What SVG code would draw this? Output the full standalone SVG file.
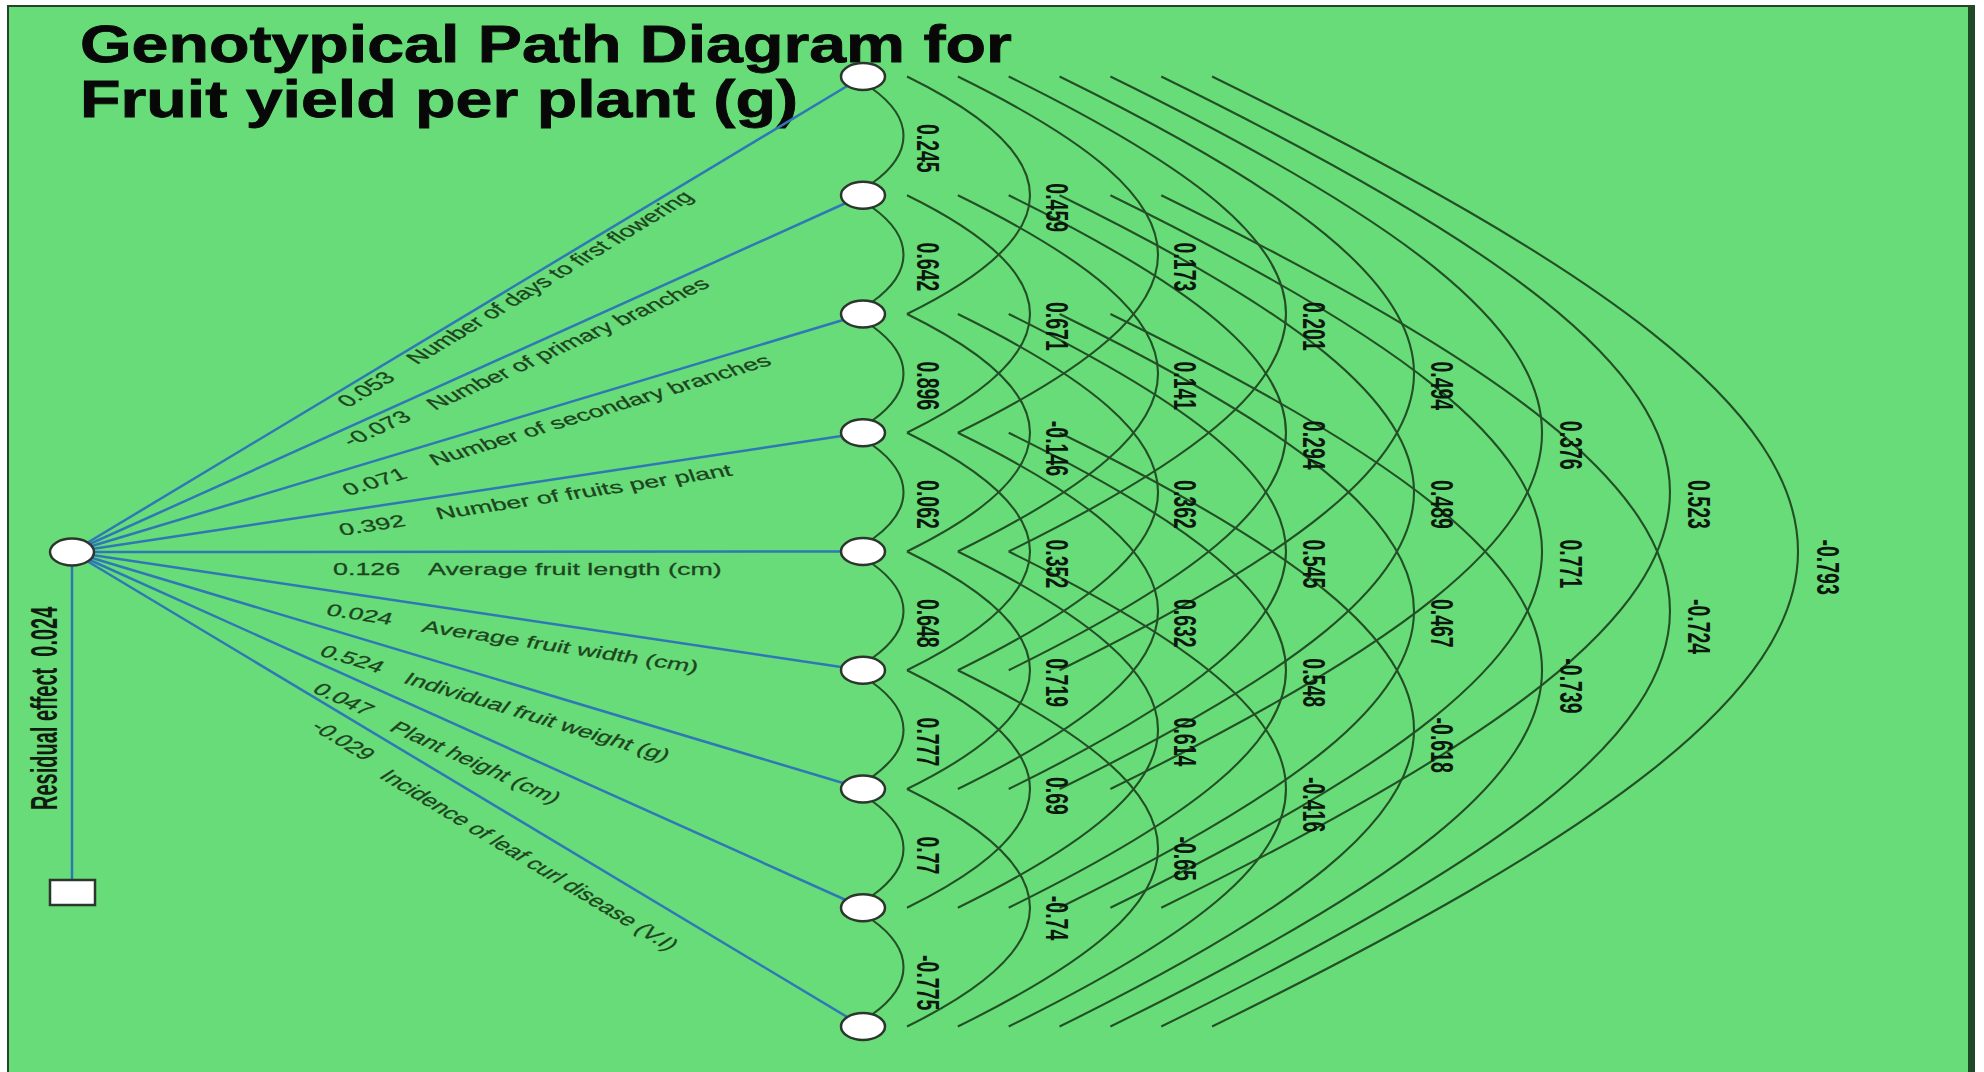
<svg xmlns="http://www.w3.org/2000/svg" width="1984" height="1072" viewBox="0 0 1984 1072">
  <style>
    .edge { stroke: #2f78b6; stroke-width: 2.5; fill: none; }
    .arc { stroke: #234f26; stroke-width: 2.1; fill: none; }
    .node { fill: #ffffff; stroke: #2b362c; stroke-width: 2.5; }
    .lab { font-family: "Liberation Sans", Arial, sans-serif; font-size: 16.8px; fill: #1d4420; stroke: #1d4420; stroke-width: 0.25; }
    .r { font-family: "Liberation Sans", Arial, sans-serif; font-size: 19.5px; font-weight: bold; fill: #0c180d; }
    .title { font-family: "Liberation Sans", Arial, sans-serif; font-size: 51px; font-weight: bold; fill: #080808; stroke: #080808; stroke-width: 0.8; }
    .res { font-family: "Liberation Sans", Arial, sans-serif; font-size: 20px; font-weight: bold; fill: #101c10; }
  </style>

  <!-- canvas and frame -->
  <rect width="1984" height="1072" fill="#ffffff"/>
  <rect x="8" y="6" width="1966" height="1070" fill="#67dc78" stroke="#23442a" stroke-width="2"/>
  <rect x="1968" y="6" width="6" height="1066" fill="#1f4a26"/>

  <!-- heading -->
  <g id="title">
    <text class="title" transform="translate(80,62) scale(1.3,1)">Genotypical Path Diagram for</text>
    <text class="title" transform="translate(80,117) scale(1.3,1)">Fruit yield per plant (g)</text>
  </g>

  <g id="connectors">
    <!-- direct paths from the dependent variable -->
    <path class="edge" d="M72,552 L863,76.5"/>
    <path class="edge" d="M72,552 L863,195.25"/>
    <path class="edge" d="M72,552 L863,314"/>
    <path class="edge" d="M72,552 L863,432.75"/>
    <path class="edge" d="M72,552 L863,551.5"/>
    <path class="edge" d="M72,552 L863,670.25"/>
    <path class="edge" d="M72,552 L863,789"/>
    <path class="edge" d="M72,552 L863,907.75"/>
    <path class="edge" d="M72,552 L863,1026.5"/>
    <path class="edge" d="M72,552 L72,880" stroke-width="2.8"/>

    <!-- correlations between neighbours -->
    <path class="arc" d="M872,88.5 c42,30 42,64.75 0,94.75"/>
    <path class="arc" d="M872,207.25 c42,30 42,64.75 0,94.75"/>
    <path class="arc" d="M872,326 c42,30 42,64.75 0,94.75"/>
    <path class="arc" d="M872,444.75 c42,30 42,64.75 0,94.75"/>
    <path class="arc" d="M872,563.5 c42,30 42,64.75 0,94.75"/>
    <path class="arc" d="M872,682.25 c42,30 42,64.75 0,94.75"/>
    <path class="arc" d="M872,801 c42,30 42,64.75 0,94.75"/>
    <path class="arc" d="M872,919.75 c42,30 42,64.75 0,94.75"/>

    <!-- span 2 -->
    <path class="arc" d="M907,76.5 c164,80.4 164,157.1 0,237.5"/>
    <path class="arc" d="M907,195.25 c164,80.4 164,157.1 0,237.5"/>
    <path class="arc" d="M907,314 c164,80.4 164,157.1 0,237.5"/>
    <path class="arc" d="M907,432.75 c164,80.4 164,157.1 0,237.5"/>
    <path class="arc" d="M907,551.5 c164,80.4 164,157.1 0,237.5"/>
    <path class="arc" d="M907,670.25 c164,80.4 164,157.1 0,237.5"/>
    <path class="arc" d="M907,789 c164,80.4 164,157.1 0,237.5"/>

    <!-- span 3 -->
    <path class="arc" d="M957.85,76.5 c266.9,130.8 266.9,225.45 0,356.25"/>
    <path class="arc" d="M957.85,195.25 c266.9,130.8 266.9,225.45 0,356.25"/>
    <path class="arc" d="M957.85,314 c266.9,130.8 266.9,225.45 0,356.25"/>
    <path class="arc" d="M957.85,432.75 c266.9,130.8 266.9,225.45 0,356.25"/>
    <path class="arc" d="M957.85,551.5 c266.9,130.8 266.9,225.45 0,356.25"/>
    <path class="arc" d="M957.85,670.25 c266.9,130.8 266.9,225.45 0,356.25"/>

    <!-- span 4 -->
    <path class="arc" d="M1008.7,76.5 c369.7,181.2 369.7,293.8 0,475"/>
    <path class="arc" d="M1008.7,195.25 c369.7,181.2 369.7,293.8 0,475"/>
    <path class="arc" d="M1008.7,314 c369.7,181.2 369.7,293.8 0,475"/>
    <path class="arc" d="M1008.7,432.75 c369.7,181.2 369.7,293.8 0,475"/>
    <path class="arc" d="M1008.7,551.5 c369.7,181.2 369.7,293.8 0,475"/>

    <!-- span 5 -->
    <path class="arc" d="M1059.55,76.5 c472.6,231.6 472.6,362.15 0,593.75"/>
    <path class="arc" d="M1059.55,195.25 c472.6,231.6 472.6,362.15 0,593.75"/>
    <path class="arc" d="M1059.55,314 c472.6,231.6 472.6,362.15 0,593.75"/>
    <path class="arc" d="M1059.55,432.75 c472.6,231.6 472.6,362.15 0,593.75"/>

    <!-- span 6 -->
    <path class="arc" d="M1110.4,76.5 c575.5,282 575.5,430.5 0,712.5"/>
    <path class="arc" d="M1110.4,195.25 c575.5,282 575.5,430.5 0,712.5"/>
    <path class="arc" d="M1110.4,314 c575.5,282 575.5,430.5 0,712.5"/>

    <!-- span 7 -->
    <path class="arc" d="M1161.25,76.5 c678.3,332.4 678.3,498.85 0,831.25"/>
    <path class="arc" d="M1161.25,195.25 c678.3,332.4 678.3,498.85 0,831.25"/>

    <!-- span 8 -->
    <path class="arc" d="M1212.1,76.5 c781.2,382.8 781.2,567.2 0,950"/>
  </g>

  <!-- labels on the direct paths -->
  <g id="path-labels">
    <text class="lab" transform="translate(348,408) scale(1.6,1) rotate(-43.89)">0.053</text>
    <text class="lab" transform="translate(417,365) scale(1.6,1) rotate(-43.89)">Number of days to first flowering</text>
    <text class="lab" transform="translate(351,447) scale(1.6,1) rotate(-35.81)">-0.073</text>
    <text class="lab" transform="translate(435,410.6) scale(1.6,1) rotate(-35.81)">Number of primary branches</text>
    <text class="lab" transform="translate(348,496) scale(1.6,1) rotate(-25.69)">0.071</text>
    <text class="lab" transform="translate(435,466) scale(1.6,1) rotate(-25.69)">Number of secondary branches</text>
    <text class="lab" transform="translate(341.5,535.7) scale(1.6,1) rotate(-13.52)">0.392</text>
    <text class="lab" transform="translate(438.6,519.6) scale(1.6,1) rotate(-13.52)">Number of fruits per plant</text>
    <text class="lab" transform="translate(333,575) scale(1.6,1)">0.126</text>
    <text class="lab" transform="translate(428,575) scale(1.6,1)">Average fruit length (cm)</text>
    <text class="lab" transform="translate(325,615) scale(1.6,1) rotate(13.52)">0.024</text>
    <text class="lab" transform="translate(420.6,631.4) scale(1.6,1) rotate(13.52)">Average fruit width (cm)</text>
    <text class="lab" transform="translate(318,655) scale(1.6,1) rotate(25.69)">0.524</text>
    <text class="lab" transform="translate(402,682.5) scale(1.6,1) rotate(25.69)">Individual fruit weight (g)</text>
    <text class="lab" transform="translate(311,691.6) scale(1.6,1) rotate(35.81)">0.047</text>
    <text class="lab" transform="translate(388,730) scale(1.6,1) rotate(35.81)">Plant height (cm)</text>
    <text class="lab" transform="translate(309.5,728) scale(1.6,1) rotate(43.89)">-0.029</text>
    <text class="lab" transform="translate(378,777) scale(1.6,1) rotate(43.89)">Incidence of leaf curl disease (V.I)</text>
    <text class="res" xml:space="preserve" transform="translate(57,810) scale(1.8,1) rotate(-90)">Residual effect  0.024</text>
  </g>

  <!-- correlation coefficients -->
  <g id="correlation-labels">
    <text class="r" transform="translate(917,123.9) scale(1.6,1) rotate(90)">0.245</text>
    <text class="r" transform="translate(917,242.6) scale(1.6,1) rotate(90)">0.642</text>
    <text class="r" transform="translate(917,361.4) scale(1.6,1) rotate(90)">0.896</text>
    <text class="r" transform="translate(917,480.1) scale(1.6,1) rotate(90)">0.062</text>
    <text class="r" transform="translate(917,598.9) scale(1.6,1) rotate(90)">0.648</text>
    <text class="r" transform="translate(917,717.6) scale(1.6,1) rotate(90)">0.777</text>
    <text class="r" transform="translate(917,836.4) scale(1.6,1) rotate(90)">0.77</text>
    <text class="r" transform="translate(917,955.1) scale(1.6,1) rotate(90)">-0.775</text>

    <text class="r" transform="translate(1045.5,183.3) scale(1.6,1) rotate(90)">0.459</text>
    <text class="r" transform="translate(1045.5,302) scale(1.6,1) rotate(90)">0.671</text>
    <text class="r" transform="translate(1045.5,420.8) scale(1.6,1) rotate(90)">-0.146</text>
    <text class="r" transform="translate(1045.5,539.5) scale(1.6,1) rotate(90)">0.352</text>
    <text class="r" transform="translate(1045.5,658.3) scale(1.6,1) rotate(90)">0.719</text>
    <text class="r" transform="translate(1045.5,777) scale(1.6,1) rotate(90)">0.69</text>
    <text class="r" transform="translate(1045.5,895.8) scale(1.6,1) rotate(90)">-0.74</text>

    <text class="r" transform="translate(1174,242.6) scale(1.6,1) rotate(90)">0.173</text>
    <text class="r" transform="translate(1174,361.4) scale(1.6,1) rotate(90)">0.141</text>
    <text class="r" transform="translate(1174,480.1) scale(1.6,1) rotate(90)">0.362</text>
    <text class="r" transform="translate(1174,598.9) scale(1.6,1) rotate(90)">0.632</text>
    <text class="r" transform="translate(1174,717.6) scale(1.6,1) rotate(90)">0.614</text>
    <text class="r" transform="translate(1174,836.4) scale(1.6,1) rotate(90)">-0.65</text>

    <text class="r" transform="translate(1302.5,302) scale(1.6,1) rotate(90)">0.201</text>
    <text class="r" transform="translate(1302.5,420.8) scale(1.6,1) rotate(90)">0.294</text>
    <text class="r" transform="translate(1302.5,539.5) scale(1.6,1) rotate(90)">0.545</text>
    <text class="r" transform="translate(1302.5,658.3) scale(1.6,1) rotate(90)">0.548</text>
    <text class="r" transform="translate(1302.5,777) scale(1.6,1) rotate(90)">-0.416</text>

    <text class="r" transform="translate(1431,361.4) scale(1.6,1) rotate(90)">0.494</text>
    <text class="r" transform="translate(1431,480.1) scale(1.6,1) rotate(90)">0.489</text>
    <text class="r" transform="translate(1431,598.9) scale(1.6,1) rotate(90)">0.467</text>
    <text class="r" transform="translate(1431,717.6) scale(1.6,1) rotate(90)">-0.618</text>

    <text class="r" transform="translate(1559.5,420.8) scale(1.6,1) rotate(90)">0.376</text>
    <text class="r" transform="translate(1559.5,539.5) scale(1.6,1) rotate(90)">0.771</text>
    <text class="r" transform="translate(1559.5,658.3) scale(1.6,1) rotate(90)">-0.739</text>

    <text class="r" transform="translate(1688,480.1) scale(1.6,1) rotate(90)">0.523</text>
    <text class="r" transform="translate(1688,598.9) scale(1.6,1) rotate(90)">-0.724</text>

    <text class="r" transform="translate(1816.5,539.5) scale(1.6,1) rotate(90)">-0.793</text>
  </g>

  <!-- variables -->
  <g id="node-yield"><ellipse class="node" cx="72" cy="552" rx="22" ry="13.5"/></g>
  <g id="node-residual"><rect class="node" x="50" y="880" width="45" height="25"/></g>
  <g id="node-days-flowering"><ellipse class="node" cx="863" cy="76.5" rx="22" ry="13.5"/></g>
  <g id="node-primary-branches"><ellipse class="node" cx="863" cy="195.25" rx="22" ry="13.5"/></g>
  <g id="node-secondary-branches"><ellipse class="node" cx="863" cy="314" rx="22" ry="13.5"/></g>
  <g id="node-fruits-per-plant"><ellipse class="node" cx="863" cy="432.75" rx="22" ry="13.5"/></g>
  <g id="node-fruit-length"><ellipse class="node" cx="863" cy="551.5" rx="22" ry="13.5"/></g>
  <g id="node-fruit-width"><ellipse class="node" cx="863" cy="670.25" rx="22" ry="13.5"/></g>
  <g id="node-fruit-weight"><ellipse class="node" cx="863" cy="789" rx="22" ry="13.5"/></g>
  <g id="node-plant-height"><ellipse class="node" cx="863" cy="907.75" rx="22" ry="13.5"/></g>
  <g id="node-leaf-curl"><ellipse class="node" cx="863" cy="1026.5" rx="22" ry="13.5"/></g>
</svg>
